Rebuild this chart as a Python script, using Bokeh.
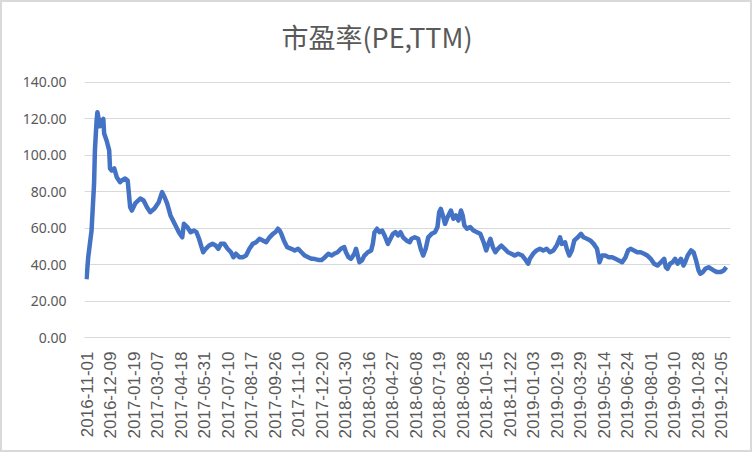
import math
from bokeh.plotting import figure
from bokeh.models import FixedTicker, NumeralTickFormatter, ColumnDataSource, Range1d, Label
from bokeh.embed import file_html
from bokeh.resources import INLINE

# trading-day index (0 = 2016-11-01) and PE (TTM) values
trade_idx = [0, 2, 6, 9, 10, 12, 13, 16, 18, 20, 21, 24, 27, 28, 30, 33, 36, 40, 42, 46, 49,
             52, 54, 58, 64, 68, 72, 76, 81, 86, 90, 93, 96, 100, 103, 106, 110, 114,
             116, 120, 124, 128, 131, 134, 137, 139, 142, 146, 150, 154, 157, 160, 164,
             168, 172, 175, 178, 182, 186, 190, 194, 198, 202, 206, 210, 214, 218, 222,
             225, 228, 230, 232, 235, 239, 244, 248, 252, 256, 260, 264, 268, 271, 276,
             280, 284, 288, 292, 295, 299, 303, 307, 309, 312, 315, 319, 321, 323, 325,
             328, 331, 335, 339, 341, 343, 346, 349, 352, 355, 359, 362, 365, 368, 371,
             374, 377, 381, 385, 387, 391, 395, 398, 401, 404, 407, 411, 415, 418, 420,
             422, 425, 427, 430, 434, 437, 440, 443, 446, 448, 450, 453, 457, 461, 465,
             469, 473, 476, 478, 481, 484, 487, 490, 494, 498, 502, 506, 510, 514, 519,
             522, 526, 528, 532, 536, 540, 544, 548, 552, 556, 560, 564, 566, 570, 572,
             575, 578, 581, 585, 589, 592, 596, 600, 604, 608, 611, 614, 618, 622, 626,
             630, 634, 638, 642, 645, 648, 652, 656, 660, 664, 668, 672, 676, 680, 684,
             688, 690, 692, 695, 698, 701, 704, 708, 711, 713, 716, 720, 723, 726, 729,
             731, 734, 737, 741, 744, 747, 751, 755, 759, 762]
pe = [32.0, 44.0, 58.7, 84.5, 102.7, 119.0, 123.7, 116.0, 119.0, 120.0, 112.0, 108.0, 102.7,
      92.8, 91.7, 92.8, 88.0, 85.3, 86.2, 87.3, 86.2,
      71.5, 69.7, 73.6, 76.3, 75.2, 71.5, 68.8, 70.8, 74.3, 79.8, 77.0, 73.6, 67.0, 64.2,
      61.5, 57.8, 55.0,
      62.4, 60.6, 57.8, 58.7, 57.8, 54.2, 49.6, 46.8, 48.7, 50.5, 51.4, 50.5, 48.7, 51.4,
      51.4, 48.7, 46.8, 44.1, 46.0, 44.1, 44.1, 45.0, 48.7, 51.4, 52.3, 54.2, 53.3, 52.3,
      55.0, 56.9, 57.8, 59.7, 58.7, 56.9, 53.3, 49.6, 48.7, 47.8, 48.7, 46.8, 45.0, 44.1,
      43.2, 43.2, 42.6, 42.6, 44.1, 46.0, 45.0, 46.0, 46.8, 48.7, 49.6, 46.8, 44.1, 43.2,
      46.0, 48.7, 45.0, 41.3, 42.3, 45.0, 46.8, 47.8, 51.4, 57.8, 59.7, 57.8, 58.7, 56.0,
      51.4, 54.2, 56.9, 57.8, 56.0, 57.8, 55.0, 53.3, 52.3,
      54.2, 55.0, 54.2, 48.7, 45.0, 48.7, 55.0, 56.9, 57.8, 60.6, 68.8, 70.6, 66.0, 62.4,
      66.0, 69.7, 65.2, 67.0, 64.2, 69.7, 67.0, 61.5, 59.7, 60.6, 58.7, 57.8, 56.9, 52.3,
      47.8, 50.5, 54.2, 49.6, 46.8, 48.7, 50.5, 48.7, 46.8, 46.0, 45.0, 46.0, 45.0,
      43.2, 40.5, 43.2, 46.0, 47.8, 48.7, 47.8, 48.7, 46.8, 47.8, 50.5, 55.0, 51.4, 52.3,
      48.7, 45.0, 47.8, 53.3, 55.0, 56.9, 55.0, 54.2, 53.3, 51.4, 48.7, 41.3, 45.0, 45.0,
      44.1, 44.1, 43.2, 42.3, 41.3, 44.1, 47.8, 48.7, 47.8, 46.8, 46.8, 46.0, 45.0, 43.2,
      40.5, 39.5, 41.3, 43.2, 38.6, 37.7, 40.5, 41.3, 43.2, 40.5, 43.2, 39.5, 41.3, 45.0,
      47.8, 46.8, 42.3, 36.8, 35.0, 35.9, 37.7, 38.6, 37.7, 36.8, 35.9, 35.9, 36.8, 38.6]

# category labels shown on the x axis (every 28th trading day)
tick_dates = ["2016-11-01", "2016-12-09", "2017-01-19", "2017-03-07", "2017-04-18",
              "2017-05-31", "2017-07-10", "2017-08-17", "2017-09-26", "2017-11-10",
              "2017-12-20", "2018-01-30", "2018-03-16", "2018-04-27", "2018-06-08",
              "2018-07-19", "2018-08-28", "2018-10-15", "2018-11-22", "2019-01-03",
              "2019-02-19", "2019-03-29", "2019-05-14", "2019-06-24", "2019-08-01",
              "2019-09-10", "2019-10-28", "2019-12-05"]
tick_step = 28
y_ticks = [0, 20, 40, 60, 80, 100, 120, 140]

title_text = "市盈率(PE,TTM)"

tick_pos = [i * tick_step for i in range(len(tick_dates))]

# the frame reaches the top of the chart; the blank space above 140 holds the title
p = figure(width=752, height=452, output_backend="svg", toolbar_location=None,
           x_range=Range1d(-2.4, 767), y_range=Range1d(0, 183.9),
           min_border_left=82, min_border_right=24, min_border_top=0, min_border_bottom=117)

p.styles = {"border": "2px solid #d9d9d9", "box-sizing": "border-box"}

src = ColumnDataSource(dict(x=trade_idx, y=pe))
p.line("x", "y", source=src, line_color="#4472C4", line_width=4.5, line_join="round")

title_label = Label(x=346, y=165, text=title_text,
                    text_font="Noto Sans CJK SC", text_font_size="27px",
                    text_color="#595959", text_align="center", text_baseline="middle")
p.add_layout(title_label)

p.outline_line_color = None
p.background_fill_color = "white"
p.border_fill_color = "white"

p.xgrid.grid_line_color = None
p.ygrid.grid_line_color = "#d9d9d9"
p.ygrid.grid_line_width = 1
p.ygrid.ticker = FixedTicker(ticks=y_ticks)

p.yaxis.ticker = FixedTicker(ticks=y_ticks)
p.yaxis.formatter = NumeralTickFormatter(format="0.00")
p.yaxis.axis_line_color = None
p.yaxis.major_tick_line_color = None
p.yaxis.minor_tick_line_color = None
p.yaxis.major_label_text_font = "Noto Sans"
p.yaxis.major_label_text_font_size = "14px"
p.yaxis.major_label_text_color = "#595959"
p.yaxis.major_label_standoff = 12

p.xaxis.ticker = FixedTicker(ticks=tick_pos)
p.xaxis.major_label_overrides = {pos: lab for pos, lab in zip(tick_pos, tick_dates)}
p.xaxis.major_label_orientation = math.pi / 2
p.xaxis.axis_line_color = "#d9d9d9"
p.xaxis.major_tick_line_color = None
p.xaxis.minor_tick_line_color = None
p.xaxis.major_label_text_font = "Liberation Sans"
p.xaxis.major_label_text_font_size = "17px"
p.xaxis.major_label_text_color = "#595959"
p.xaxis.major_label_standoff = 8

open("out.html", "w").write(file_html(p, INLINE))
